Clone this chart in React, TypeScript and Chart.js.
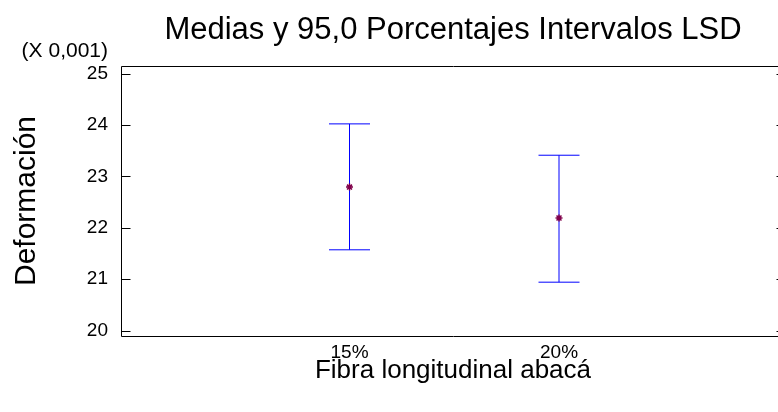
import { useEffect, useRef } from 'react';
import { Chart, registerables } from 'chart.js';

Chart.register(...registerables);

const FONT = '"Liberation Sans", Arial, Helvetica, sans-serif';

const chartTitle = 'Medias y 95,0 Porcentajes Intervalos LSD';
const xAxisTitle = 'Fibra longitudinal abacá';
const yAxisTitle = 'Deformación';
const yScaleNote = '(X 0,001)';

// Group labels and LSD intervals (values in units of 0,001)
const categories = ['15%', '20%'];
const means = [22.79, 22.19];
const lowerLimits = [21.57, 20.94];
const upperLimits = [24.02, 23.41];
const yTickValues = [20, 21, 22, 23, 24, 25];

const CANVAS_W = 800;
const CANVAS_H = 412;

export default function App() {
  const canvasRef = useRef<HTMLCanvasElement | null>(null);

  useEffect(() => {
    const canvas = canvasRef.current;
    if (!canvas) return;

    // Plot frame with inward ticks, LSD interval bars, title and scale note
    const intervalPlugin = {
      id: 'lsdIntervals',
      beforeDatasetsDraw(chart: any) {
        const { ctx, chartArea: a, scales } = chart;
        const x = scales.x;
        const y = scales.y;
        ctx.save();
        ctx.lineWidth = 1;

        ctx.strokeStyle = '#000000';
        const l = Math.round(a.left) + 0.5;
        const r = Math.round(a.right) + 0.5;
        const t = Math.round(a.top) + 0.5;
        const b = Math.round(a.bottom) + 0.5;
        ctx.beginPath();
        ctx.rect(l, t, r - l, b - t);
        yTickValues.forEach((v) => {
          const py = Math.round(y.getPixelForValue(v)) + 0.5;
          ctx.moveTo(l, py);
          ctx.lineTo(l + 9, py);
          ctx.moveTo(r, py);
          ctx.lineTo(r - 9, py);
        });
        ctx.stroke();

        ctx.strokeStyle = '#0000ff';
        categories.forEach((_, i) => {
          const px = x.getPixelForValue(i + 1);
          const top = y.getPixelForValue(upperLimits[i]);
          const bot = y.getPixelForValue(lowerLimits[i]);
          ctx.beginPath();
          ctx.moveTo(px, top);
          ctx.lineTo(px, bot);
          ctx.moveTo(px - 20.5, top);
          ctx.lineTo(px + 20.5, top);
          ctx.moveTo(px - 20.5, bot);
          ctx.lineTo(px + 20.5, bot);
          ctx.stroke();
        });

        ctx.fillStyle = '#000000';
        ctx.textBaseline = 'middle';
        ctx.textAlign = 'center';
        ctx.font = `31px ${FONT}`;
        ctx.fillText(chartTitle, 453, 30);
        ctx.textAlign = 'right';
        ctx.font = `21px ${FONT}`;
        ctx.fillText(yScaleNote, 108, 51);

        ctx.restore();
      },
    };

    const chart = new Chart(canvas, {
      type: 'scatter',
      data: {
        datasets: [
          {
            label: 'Medias',
            data: categories.map((_, i) => ({ x: i + 1, y: means[i] })),
            pointStyle: 'star',
            radius: 3.5,
            borderColor: '#80004a',
            backgroundColor: '#80004a',
            borderWidth: 1.5,
          },
        ],
      },
      options: {
        responsive: false,
        animation: false,
        events: [],
        layout: { padding: { top: 66, right: 15, left: 0, bottom: 0 } },
        plugins: {
          legend: { display: false },
          title: { display: false },
          tooltip: { enabled: false },
        },
        scales: {
          x: {
            type: 'linear',
            min: -0.0907,
            max: 3.0787,
            border: { display: false },
            grid: { display: false, drawTicks: false },
            afterFit(scale: any) {
              scale.height = 76;
            },
            afterBuildTicks(scale: any) {
              scale.ticks = categories.map((_, i) => ({ value: i + 1 }));
            },
            ticks: {
              autoSkip: false,
              maxRotation: 0,
              padding: 5,
              color: '#000000',
              font: { family: FONT, size: 19 },
              callback: (v: any) => categories[Number(v) - 1] ?? '',
            },
            title: {
              display: true,
              text: xAxisTitle,
              color: '#000000',
              font: { family: FONT, size: 26 },
              padding: { top: 0, bottom: 26 },
            },
          },
          y: {
            type: 'linear',
            min: 19.893,
            max: 25.146,
            border: { display: false },
            grid: { display: false, drawTicks: false },
            afterFit(scale: any) {
              scale.width = 121;
            },
            afterBuildTicks(scale: any) {
              scale.ticks = yTickValues.map((v) => ({ value: v }));
            },
            ticks: {
              padding: 13,
              color: '#000000',
              font: { family: FONT, size: 19 },
              callback: (v: any) => String(v),
            },
            title: {
              display: true,
              text: yAxisTitle,
              color: '#000000',
              font: { family: FONT, size: 30 },
              padding: { top: 9, bottom: 0 },
            },
          },
        },
      },
      plugins: [intervalPlugin],
    });

    return () => {
      chart.destroy();
    };
  }, []);

  return (
    <canvas
      ref={canvasRef}
      width={CANVAS_W}
      height={CANVAS_H}
      style={{ position: 'fixed', left: 0, top: 0, width: CANVAS_W, height: CANVAS_H, background: '#ffffff' }}
    />
  );
}
